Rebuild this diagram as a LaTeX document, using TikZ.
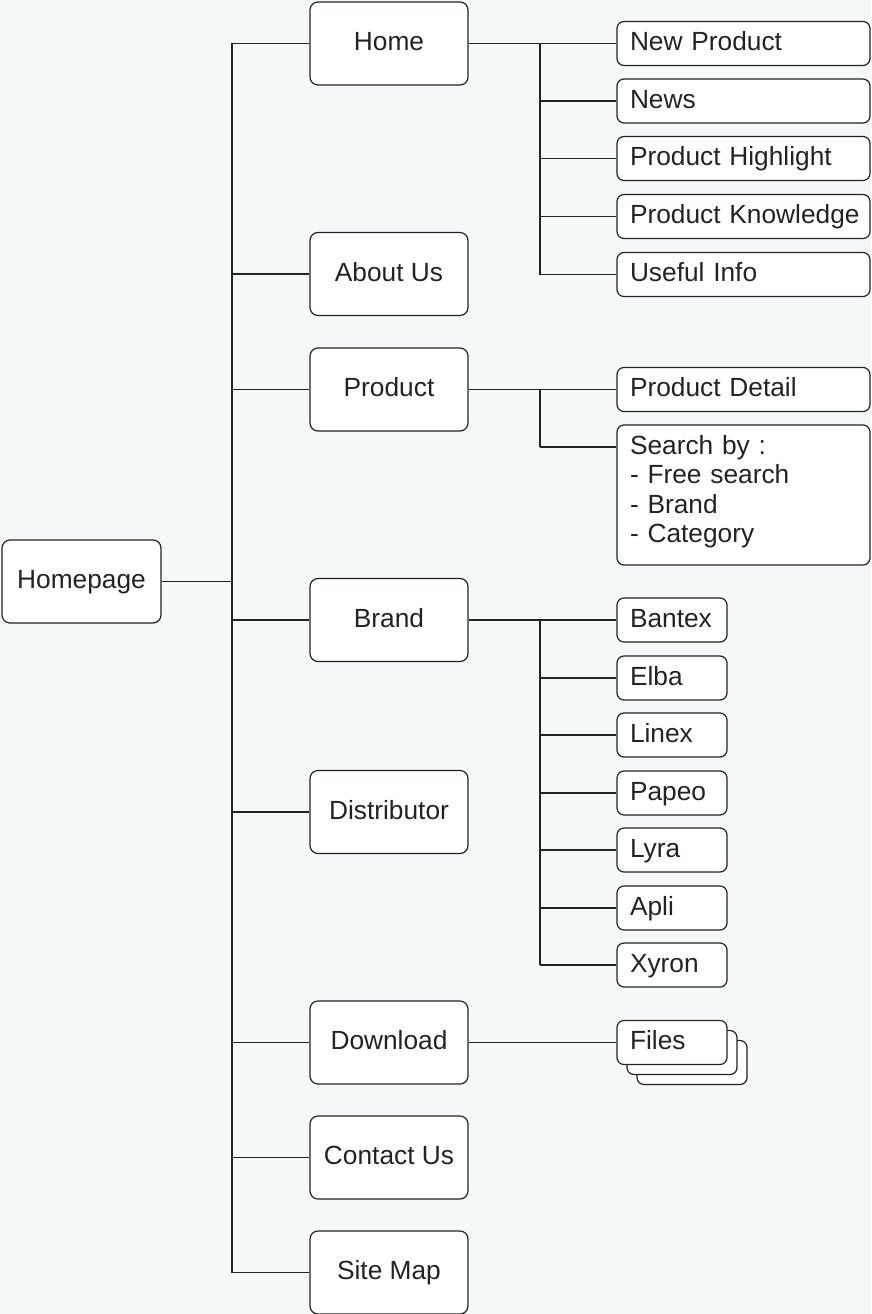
\documentclass[tikz,border=0pt]{standalone}
\usepackage{fontspec}
\setmainfont{Liberation Sans}
\definecolor{bgc}{RGB}{245,248,249}
\definecolor{ink}{RGB}{35,35,35}
\begin{document}
\begin{tikzpicture}[x=1pt,y=-1pt,
  base/.style={draw=ink, text=ink, line width=1.2pt, fill=white, inner sep=0pt,
    font=\fontsize{26.3}{29.4}\selectfont},
  mid/.style={base, rounded corners=8pt, minimum width=158pt, minimum height=83pt,
    text height=19pt, text depth=5pt},
  leaf/.style={base, rounded corners=7pt, minimum height=44pt, align=left,
    text width=#1, inner xsep=13pt, text height=19pt, text depth=5pt},
  wire/.style={draw=ink, line width=1.2pt}]
\fill[bgc] (0,0) rectangle (871,1314);
\useasboundingbox (0,0) rectangle (871,1314);

\coordinate (tx) at (232,0);
\coordinate (bx) at (540,0);

% root
\node[mid, minimum width=159pt] (homepage) at (81.5,581.5) {Homepage};

% middle level
\node[mid] (home) at (389,43.5) {Home};
\node[mid] (about) at (389,274) {About Us};
\node[mid] (product) at (389,389.5) {Product};
\node[mid] (brand) at (389,620) {Brand};
\node[mid] (distributor) at (389,812) {Distributor};
\node[mid] (download) at (389,1042.5) {Download};
\node[mid] (contact) at (389,1157.5) {Contact Us};
\node[mid] (sitemap) at (389,1272.5) {Site Map};

% home children
\node[leaf=227pt] (np) at (743.5,43.5) {New Product};
\node[leaf=227pt] (news) at (743.5,101) {News};
\node[leaf=227pt] (ph) at (743.5,158.5) {Product Highlight};
\node[leaf=227pt] (pk) at (743.5,216.5) {\mbox{Product Knowledge}};
\node[leaf=227pt] (ui) at (743.5,274.5) {Useful Info};

% product children
\node[leaf=227pt] (pd) at (743.5,389.5) {Product Detail};
\node[base, rounded corners=7pt, align=left, text width=227pt, inner xsep=13pt,
  minimum height=140pt] (sb) at (743.5,495)
  {Search by :\\- Free search\\- Brand\\- Category\rule[-12pt]{0pt}{12pt}};

% brand children
\node[leaf=84pt] (bantex) at (672,620) {Bantex};
\node[leaf=84pt] (elba) at (672,678) {Elba};
\node[leaf=84pt] (linex) at (672,735) {Linex};
\node[leaf=84pt] (papeo) at (672,793) {Papeo};
\node[leaf=84pt] (lyra) at (672,850) {Lyra};
\node[leaf=84pt] (apli) at (672,908) {Apli};
\node[leaf=84pt] (xyron) at (672,965) {Xyron};

% files stack
\node[leaf=84pt] (files3) at (692,1062.5) {\phantom{Files}};
\node[leaf=84pt] (files2) at (682,1052.5) {\phantom{Files}};
\node[leaf=84pt] (files) at (672,1042.5) {Files};

% trunk
\draw[wire] (homepage.east) -- (tx |- homepage.east);
\draw[wire] (tx |- home.west) -- (tx |- sitemap.west);
\foreach \n in {home,about,product,brand,distributor,download,contact,sitemap}
  \draw[wire] (tx |- \n.west) -- (\n.west);

% home branch
\draw[wire] (home.east) -- (np.west);
\draw[wire] (bx |- np.west) -- (bx |- ui.west);
\foreach \n in {news,ph,pk,ui}
  \draw[wire] (bx |- \n.west) -- (\n.west);

% product branch
\draw[wire] (product.east) -- (pd.west);
\draw[wire] (bx |- pd.west) -- (bx |- 0,447);
\draw[wire] (bx |- 0,447) -- (sb.west |- 0,447);

% brand branch
\draw[wire] (brand.east) -- (bantex.west);
\draw[wire] (bx |- bantex.west) -- (bx |- xyron.west);
\foreach \n in {elba,linex,papeo,lyra,apli,xyron}
  \draw[wire] (bx |- \n.west) -- (\n.west);

% download branch
\draw[wire] (download.east) -- (files.west);
\end{tikzpicture}
\end{document}
